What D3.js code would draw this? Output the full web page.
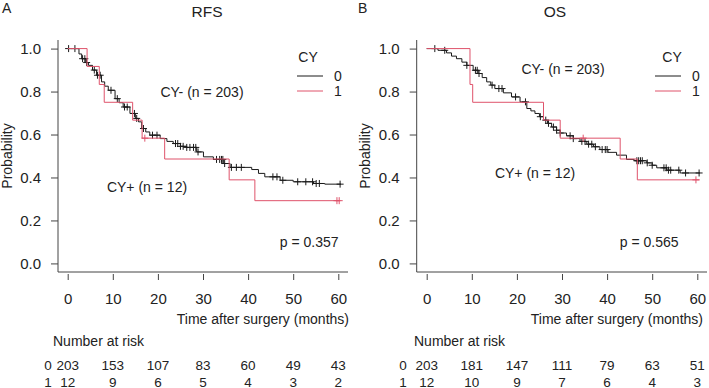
<!DOCTYPE html>
<html>
<head>
<meta charset="utf-8">
<script src="https://cdn.jsdelivr.net/npm/d3@7"></script>
<style>
body{margin:0;background:#fff}
text{font-family:"Liberation Sans",Arial,sans-serif;fill:#222}
</style>
</head>
<body>
<svg id="chart" width="709" height="388"></svg>
<script>
// number at risk
var riskTimes = [0,10,20,30,40,50,60];
var rfsRisk0 = [203,153,107,83,60,49,43];
var rfsRisk1 = [12,9,6,5,4,3,2];
var osRisk0 = [203,181,147,111,79,63,51];
var osRisk1 = [12,10,9,7,6,4,3];

// RFS, CY = 0
var rfsTime0 = [0,2.5,3.1,4.0,4.6,5.5,6.4,7.5,8.2,9.0,10.5,11.4,12.3,13.8,15.0,15.7,16.4,17.3,18.2,20.5,22.0,23.4,25.0,26.4,28.6,30.1,32.3,34.5,36.0,40.8,42.3,43.7,47.1,50.0,54.5,57.0];
var rfsSurv0 = [1,0.975,0.953,0.935,0.922,0.90,0.876,0.845,0.825,0.806,0.767,0.748,0.728,0.698,0.675,0.659,0.628,0.612,0.597,0.581,0.568,0.558,0.545,0.540,0.519,0.496,0.484,0.465,0.447,0.437,0.419,0.403,0.387,0.380,0.372,0.369];
var rfsCens0 = [0.2,1.6,3.3,3.8,4.2,5.9,6.6,7.2,9.6,11.0,12.6,13.2,14.8,15.3,16.8,18.8,19.8,23.9,24.4,25.0,25.6,26.4,27.1,27.9,28.4,28.9,33.0,33.7,34.1,34.4,34.8,36.3,37.4,38.5,45.5,46.4,47.7,51.0,52.8,54.3,55.1,55.8,60.4];
var rfsEnd0 = 60.6;
// RFS, CY = 1
var rfsTime1 = [0,4.3,7.0,8.1,14.4,16.5,21.5,35.8,41.5];
var rfsSurv1 = [1,0.917,0.833,0.75,0.667,0.583,0.486,0.389,0.292];
var rfsCens1 = [17.1,59.7,60.2];
var rfsEnd1 = 60.3;

// OS, CY = 0
var osTime0 = [0,2.5,4.4,5.5,6.6,7.8,8.9,10.3,11.4,12.3,13.3,14.2,15.1,17.0,18.8,20.7,22.2,23.1,24.0,25.0,25.9,26.8,27.7,28.8,29.6,31.0,32.5,34.0,35.5,37.0,38.4,40.2,42.1,44.3,46.0,48.8,50.0,51.0,53.2,56.2];
var osSurv0 = [1,0.992,0.98,0.965,0.953,0.937,0.922,0.899,0.884,0.865,0.845,0.83,0.814,0.794,0.775,0.752,0.721,0.71,0.698,0.683,0.667,0.652,0.635,0.62,0.607,0.594,0.581,0.568,0.555,0.543,0.530,0.517,0.504,0.484,0.478,0.468,0.457,0.445,0.434,0.421];
var osCens0 = [1.8,4.0,8.9,10.8,11.2,11.6,14.5,16.0,16.7,19.7,21.9,25.2,26.4,27.0,28.1,28.8,29.6,31.8,32.5,34.4,35.1,35.9,36.6,37.4,38.9,39.6,40.0,46.6,47.0,47.4,47.8,48.9,50.0,52.6,53.1,53.6,54.1,55.9,57.4,60.4];
var osEnd0 = 60.6;
// OS, CY = 1
var osTime1 = [0,9.6,10.2,25.9,29.6,42.9,46.7];
var osSurv1 = [1,0.833,0.75,0.667,0.583,0.486,0.389];
var osCens1 = [34.7,59.7];
var osEnd1 = 60.5;

var yTicks = [0,0.2,0.4,0.6,0.8,1.0];
var xTicks = [0,10,20,30,40,50,60];

var colBlack = "#1a1a1a", colRed = "#DF536B", colAxis = "#444";

var svg = d3.select("#chart");

var panels = [
  {letter:"A", letterX:2, title:"RFS", titleX:207, x0:67.7, x60:338.3, boxL:58, boxR:348,
   probX:11.5, legX:297, cyX:308, labA:[202,97], labB:[147,192], pX:338.5, pText:"p = 0.357",
   timeX:349, narX:53, rowLabX:48,
   curves:[{t:rfsTime0,s:rfsSurv0,c:rfsCens0,end:rfsEnd0,col:colBlack},
           {t:rfsTime1,s:rfsSurv1,c:rfsCens1,end:rfsEnd1,col:colRed}],
   risk:[rfsRisk0,rfsRisk1]},
  {letter:"B", letterX:358, title:"OS", titleX:555, x0:426.7, x60:697.3, boxL:416.7, boxR:707,
   probX:370, legX:655, cyX:672, labA:[563,74], labB:[535,178], pX:678.5, pText:"p = 0.565",
   timeX:703, narX:414, rowLabX:403,
   curves:[{t:osTime0,s:osSurv0,c:osCens0,end:osEnd0,col:colBlack},
           {t:osTime1,s:osSurv1,c:osCens1,end:osEnd1,col:colRed}],
   risk:[osRisk0,osRisk1]}
];

panels.forEach(function(p){
  var x = d3.scaleLinear().domain([0,60]).range([p.x0,p.x60]);
  var y = d3.scaleLinear().domain([-0.04,1.04]).range([272,40]);
  var g = svg.append("g");

  // L-shaped box
  g.append("path")
    .attr("d","M"+p.boxL+",40V272H"+p.boxR)
    .attr("fill","none").attr("stroke",colAxis).attr("stroke-width",1);

  var ya = g.append("g").attr("transform","translate("+p.boxL+",0)")
    .call(d3.axisLeft(y).tickValues(yTicks).tickFormat(d3.format(".1f")).tickSize(7).tickPadding(10));
  ya.select(".domain").remove();
  ya.selectAll("line").attr("stroke",colAxis);
  ya.selectAll("text").attr("font-size",15).attr("fill","#222").attr("font-family",null);

  var xa = g.append("g").attr("transform","translate(0,274)")
    .call(d3.axisBottom(x).tickValues(xTicks).tickSize(6).tickPadding(13));
  xa.select(".domain").remove();
  xa.selectAll("line").attr("stroke",colAxis);
  xa.selectAll("text").attr("font-size",15).attr("fill","#222").attr("font-family",null);

  // curves
  var line = d3.line().x(function(d){return x(d[0]);}).y(function(d){return y(d[1]);}).curve(d3.curveStepAfter);
  p.curves.forEach(function(cv){
    var pts = cv.t.map(function(t,i){return [t,cv.s[i]];});
    pts.push([cv.end, cv.s[cv.s.length-1]]);
    g.append("path").datum(pts).attr("d",line)
      .attr("fill","none").attr("stroke",cv.col).attr("stroke-width",1);
    var marks = cv.c.map(function(t){
      var i = d3.bisectRight(cv.t,t)-1;
      return [t, cv.s[Math.max(i,0)]];
    });
    g.selectAll(null).data(marks).enter().append("path")
      .attr("d",function(d){var cx=x(d[0]), cy=y(d[1]);
        return "M"+(cx-3.5)+","+cy+"H"+(cx+3.5)+"M"+cx+","+(cy-3.5)+"V"+(cy+3.5);})
      .attr("stroke",cv.col).attr("stroke-width",1).attr("fill","none");
  });

  // titles
  g.append("text").attr("x",p.letterX).attr("y",13).attr("font-size",14).text(p.letter);
  g.append("text").attr("x",p.titleX).attr("y",17).attr("font-size",15.5).attr("text-anchor","middle").text(p.title);
  g.append("text").attr("transform","translate("+p.probX+",156) rotate(-90)")
    .attr("text-anchor","middle").attr("font-size",14).text("Probability");

  // legend
  g.append("text").attr("x",p.cyX).attr("y",62).attr("font-size",14).attr("text-anchor","middle").text("CY");
  ["0","1"].forEach(function(k,i){
    var ly = 76+i*15;
    g.append("line").attr("x1",p.legX).attr("x2",p.legX+26).attr("y1",ly).attr("y2",ly)
      .attr("stroke",i===0?colBlack:colRed).attr("stroke-width",1);
    g.append("text").attr("x",p.legX+41).attr("y",ly).attr("dominant-baseline","central")
      .attr("text-anchor","middle").attr("font-size",14).text(k);
  });

  // annotations
  g.append("text").attr("x",p.labA[0]).attr("y",p.labA[1]).attr("text-anchor","middle").attr("font-size",14).text("CY- (n = 203)");
  g.append("text").attr("x",p.labB[0]).attr("y",p.labB[1]).attr("text-anchor","middle").attr("font-size",14).text("CY+ (n = 12)");
  g.append("text").attr("x",p.pX).attr("y",247).attr("text-anchor","end").attr("font-size",14).text(p.pText);
  g.append("text").attr("x",p.timeX).attr("y",324).attr("text-anchor","end").attr("font-size",14).text("Time after surgery (months)");

  // number at risk
  g.append("text").attr("x",p.narX).attr("y",346).attr("font-size",14).text("Number at risk");
  p.risk.forEach(function(row,ri){
    var by = 370+ri*16.5;
    g.append("text").attr("x",p.rowLabX).attr("y",by).attr("text-anchor","middle").attr("font-size",13.5).text(String(ri));
    g.selectAll(null).data(row).enter().append("text")
      .attr("x",function(d,i){return x(riskTimes[i]);}).attr("y",by)
      .attr("text-anchor","middle").attr("font-size",13.5).text(function(d){return d;});
  });
});
</script>
</body>
</html>
